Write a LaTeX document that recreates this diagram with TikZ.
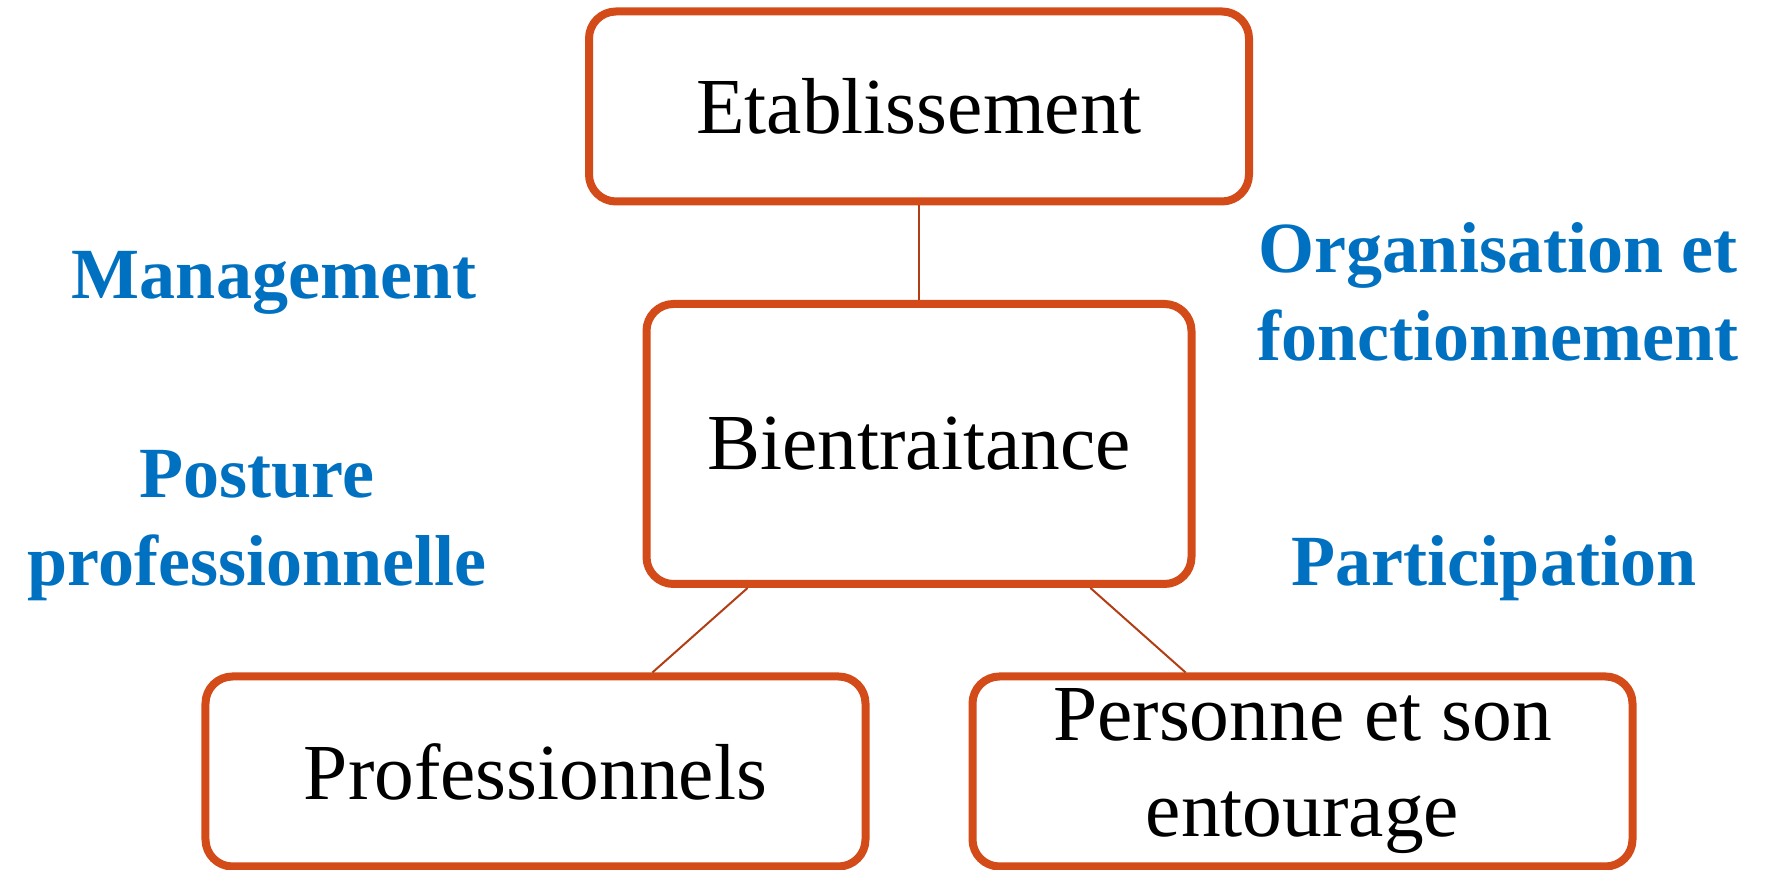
\documentclass[tikz,border=0pt]{standalone}
\usepackage{fontspec}
\setmainfont{Liberation Serif}
\usetikzlibrary{calc}
\definecolor{bordure}{RGB}{210,75,25}
\definecolor{filet}{RGB}{178,62,22}
\definecolor{bleu}{RGB}{0,112,192}
\tikzstyle{bloc} = [rectangle, rounded corners=0.27cm, minimum width=6.60cm, minimum height=1.90cm, text centered, align=center, draw=bordure, line width=0.8mm, fill=white, font=\fontsize{22.6}{27.3}\selectfont]
\tikzstyle{centre} = [bloc, minimum width=5.45cm, minimum height=2.80cm]
\tikzstyle{theme} = [text=bleu, align=center, font=\bfseries\fontsize{20.5}{25}\selectfont]
\tikzstyle{trait} = [draw=filet, line width=0.2mm]

\begin{document}
\begin{tikzpicture}[node distance=3.375cm]
\useasboundingbox (0,0) rectangle (17.74,-8.70);
% Drawing nodes
\node (etab) [bloc] at (9.19,-1.065) {Etablissement};
\node (bien) [centre, below of=etab] {Bientraitance};
\node (prof) [bloc, below of=bien, xshift=-3.835cm, yshift=0.10cm] {Professionnels};
\node (pers) [bloc, below of=bien, xshift=3.835cm, yshift=0.10cm] {Personne et son\\entourage};

% Drawing labels
\node (mgmt) [theme, anchor=base] at (2.74,-2.99) {Management};
\node (post) [theme] at (2.57,-5.26) {Posture\\professionnelle};
\node (orga) [theme] at (14.98,-2.92) {Organisation et\\fonctionnement};
\node (part) [theme, anchor=base] at (14.94,-5.86) {Participation};

% Drawing links
\draw [trait] (etab) -- (bien);
\draw [trait] ($(bien.south west)!0.19!(bien.south east)$) -- ($(prof.north west)!0.675!(prof.north east)$);
\draw [trait] ($(bien.south west)!0.81!(bien.south east)$) -- ($(pers.north west)!0.325!(pers.north east)$);
\end{tikzpicture}
\end{document}
